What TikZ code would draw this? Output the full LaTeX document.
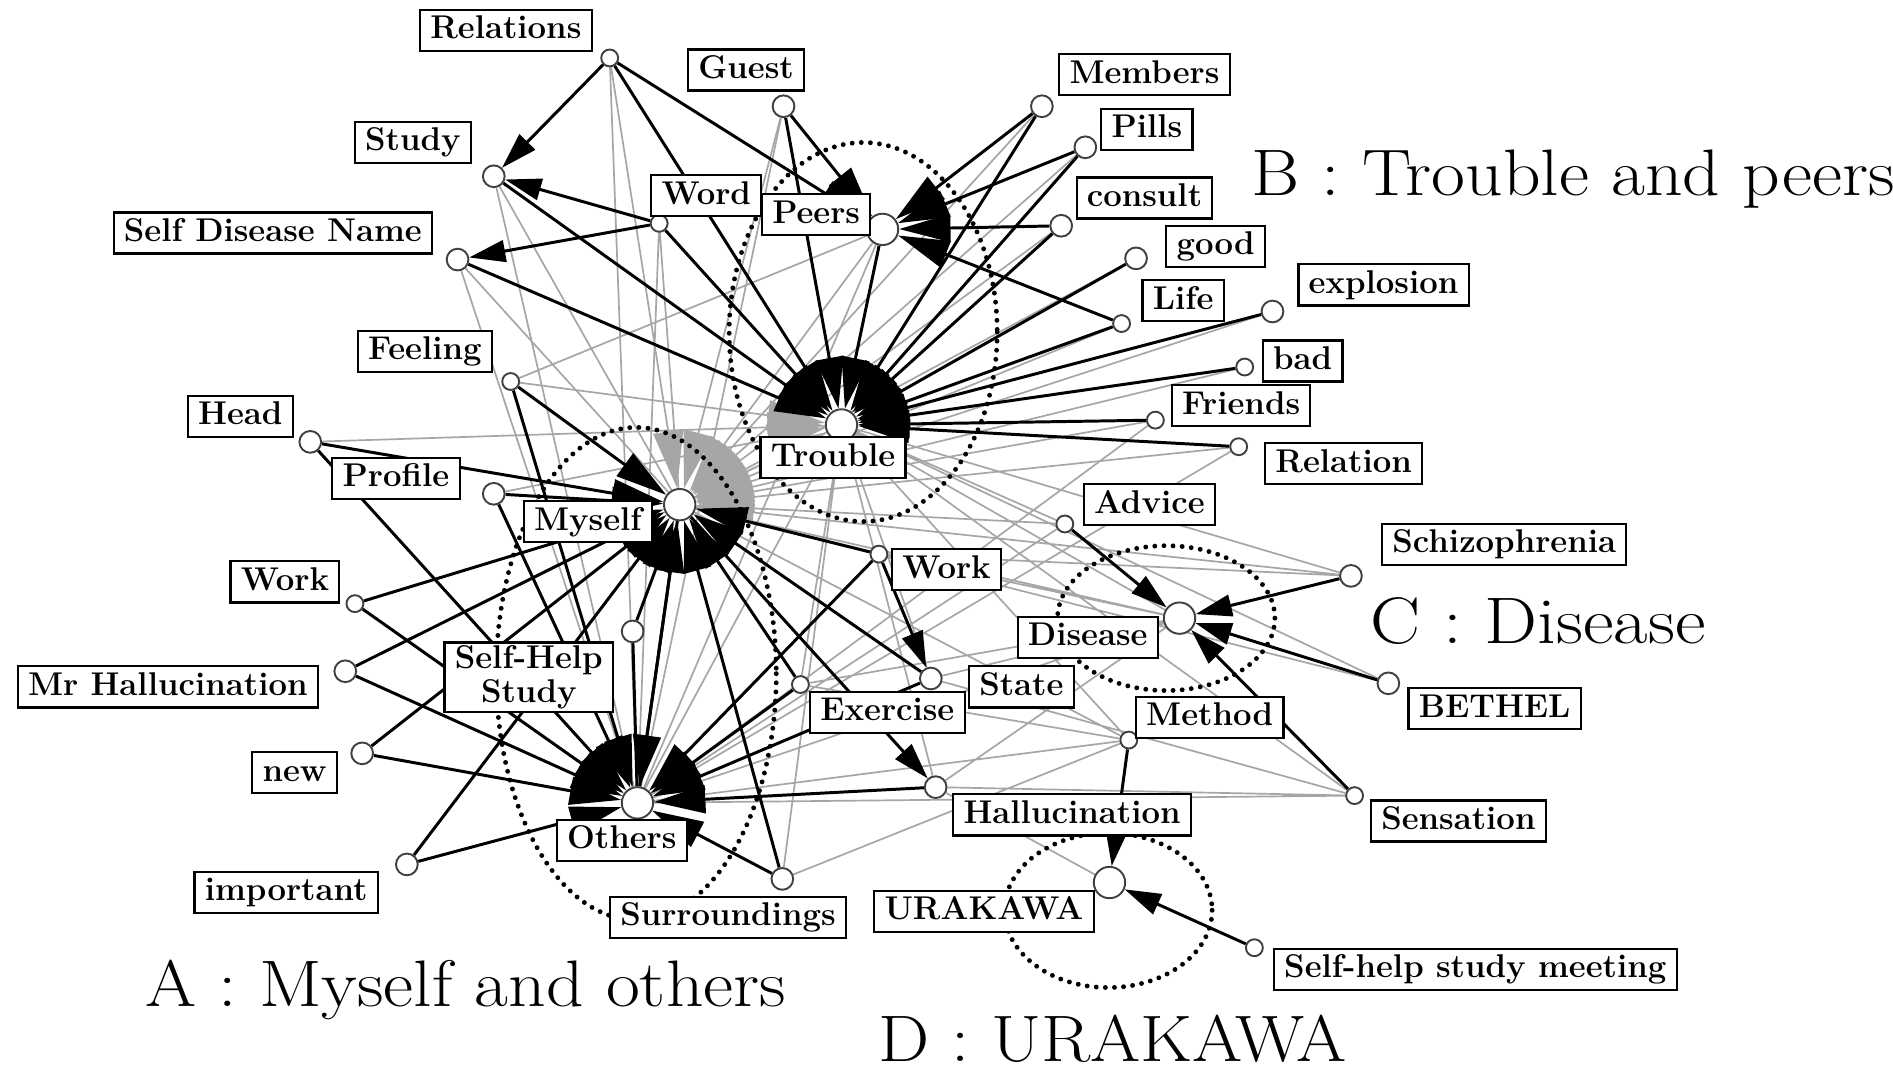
\documentclass[tikz,border=0pt]{standalone}
\usepackage{fontspec}
\usepackage{tikz}
\usetikzlibrary{arrows.meta, backgrounds}

\begin{document}
\begin{tikzpicture}[x=0.02cm, y=-0.02cm, >={Triangle[length=0.6cm, width=0.36cm]}, font=\fontsize{15.5}{17}\selectfont\bfseries]
	\tikzstyle{vtx} = [draw=black!75, line width=0.9pt, fill=white, circle, minimum size=0.36cm, inner sep=0pt]
	\tikzstyle{smallvtx} = [vtx, minimum size=0.28cm]
	\tikzstyle{hub} = [vtx, minimum size=0.52cm]
	\tikzstyle{box} = [draw=black, line width=1pt, fill=white, rectangle, inner xsep=0.17cm]
	\tikzstyle{tag} = [box, inner ysep=0.1cm, text height=0.38cm, text depth=0.1cm]
	\tikzstyle{grouptitle} = [anchor=base west, inner sep=0pt, font=\fontsize{31}{34}\selectfont\mdseries]
	\tikzstyle{link} = [line width=1.4pt]
	\tikzstyle{arrow} = [link, ->]
	\tikzstyle{fan} = [link, -{Triangle[length=0.85cm, width=0.46cm]}]
	\tikzstyle{faint} = [line width=0.8pt, black!35]
	\tikzstyle{faintfan} = [faint, -{Triangle[length=0.95cm, width=0.5cm]}]
	\tikzstyle{cluster} = [line width=2.3pt, dash pattern=on 0pt off 4.3pt, line cap=round]
	
	\useasboundingbox (0,0) rectangle (1568,890);
	
	% hubs
	\node[hub]	at (697,352)	(tr)	{};
	\node[hub]	at (563,418)	(my)	{};
	\node[hub]	at (528,665)	(ot)	{};
	\node[hub]	at (731,190)	(pe)	{};
	\node[hub]	at (977,512)	(dis)	{};
	\node[hub]	at (919,731)	(ura)	{};
	
	% words
	\node[smallvtx]	at (505,48)		(rel)		{};
	\node[vtx]		at (649,88)		(guest)		{};
	\node[vtx]		at (409,146)	(study)		{};
	\node[smallvtx]	at (546,185)	(word)		{};
	\node[vtx]		at (379,215)	(sdn)		{};
	\node[vtx]		at (863,88)		(mem)		{};
	\node[vtx]		at (899,122)	(pills)		{};
	\node[vtx]		at (879,187)	(cons)		{};
	\node[vtx]		at (941,214)	(good)		{};
	\node[smallvtx]	at (929,268)	(life)		{};
	\node[vtx]		at (1054,258)	(expl)		{};
	\node[smallvtx]	at (1031,304)	(bad)		{};
	\node[smallvtx]	at (957,348)	(friends)	{};
	\node[smallvtx]	at (1026,370)	(relation)	{};
	\node[smallvtx]	at (423,316)	(feel)		{};
	\node[vtx]		at (257,366)	(head)		{};
	\node[vtx]		at (409,409)	(prof)		{};
	\node[smallvtx]	at (294,500)	(workl)		{};
	\node[vtx]		at (286,556)	(mrh)		{};
	\node[vtx]		at (300,624)	(new)		{};
	\node[vtx]		at (337,716)	(imp)		{};
	\node[vtx]		at (524,523)	(shs)		{};
	\node[vtx]		at (648,728)	(sur)		{};
	\node[smallvtx]	at (663,567)	(exer)		{};
	\node[smallvtx]	at (728,459)	(workr)		{};
	\node[vtx]		at (771,562)	(state)		{};
	\node[vtx]		at (775,652)	(hall)		{};
	\node[smallvtx]	at (882,434)	(adv)		{};
	\node[vtx]		at (1119,477)	(schizo)	{};
	\node[vtx]		at (1150,566)	(bethel)	{};
	\node[smallvtx]	at (935,613)	(meth)		{};
	\node[smallvtx]	at (1122,659)	(sens)		{};
	\node[smallvtx]	at (1039,785)	(shsm)		{};
	
	% labels
	\node[tag]	at (419,25)		(relL)		{Relations};
	\node[tag]	at (618,58)		(guestL)	{Guest};
	\node[tag]	at (342,118)	(studyL)	{Study};
	\node[tag]	at (585,162)	(wordL)		{Word};
	\node[tag]	at (226,193)	(sdnL)		{Self Disease Name};
	\node[tag]	at (676,178)	(peL)		{Peers};
	\node[tag]	at (948,62)		(memL)		{Members};
	\node[tag]	at (950,107)	(pillsL)	{Pills};
	\node[tag]	at (948,164)	(consL)		{consult};
	\node[tag]	at (1007,204)	(goodL)		{good};
	\node[tag]	at (980,249)	(lifeL)		{Life};
	\node[tag]	at (1146,236)	(explL)		{explosion};
	\node[tag]	at (1079,299)	(badL)		{bad};
	\node[tag]	at (1028,336)	(friendsL)	{Friends};
	\node[tag]	at (1113,384)	(relationL)	{Relation};
	\node[tag]	at (352,291)	(feelL)		{Feeling};
	\node[tag]	at (199,345)	(headL)		{Head};
	\node[tag]	at (328,396)	(profL)		{Profile};
	\node[tag]	at (487,432)	(myL)		{Myself};
	\node[tag]	at (690,379)	(trL)		{Trouble};
	\node[tag]	at (236,482)	(worklL)	{Work};
	\node[tag]	at (139,569)	(mrhL)		{Mr Hallucination};
	\node[box, align=center, inner ysep=0.05cm, font=\fontsize{15.5}{16}\selectfont\bfseries]	at (438,561)	(shsL)	{Self-Help\\Study};
	\node[tag]	at (244,640)	(newL)		{new};
	\node[tag]	at (237,739)	(impL)		{important};
	\node[tag]	at (515,696)	(otL)		{Others};
	\node[tag]	at (603,760)	(surL)		{Surroundings};
	\node[tag]	at (735,590)	(exerL)		{Exercise};
	\node[tag]	at (784,472)	(workrL)	{Work};
	\node[tag]	at (846,569)	(stateL)	{State};
	\node[tag]	at (888,675)	(hallL)		{Hallucination};
	\node[tag]	at (952,418)	(advL)		{Advice};
	\node[tag]	at (901,528)	(disL)		{Disease};
	\node[tag]	at (1246,451)	(schizoL)	{Schizophrenia};
	\node[tag]	at (1238,587)	(bethelL)	{BETHEL};
	\node[tag]	at (1002,594)	(methL)		{Method};
	\node[tag]	at (1208,680)	(sensL)		{Sensation};
	\node[tag]	at (815,755)	(uraL)		{URAKAWA};
	\node[tag]	at (1222,803)	(shsmL)		{Self-help study meeting};
	
	% groups
	\node[grouptitle]	at (1036,162)	(gB)	{\scalebox{1.12}[1]{B : Trouble and peers}};
	\node[grouptitle]	at (1135,533)	(gC)	{\scalebox{1.14}[1]{C : Disease}};
	\node[grouptitle]	at (120,834)	(gA)	{\scalebox{1.12}[1]{A : Myself and others}};
	\node[grouptitle]	at (727,879)	(gD)	{\scalebox{1.1}[1]{D : URAKAWA}};
	
	\begin{scope}[on background layer]
		\fill[white] (0,0) rectangle (1568,890);
		
		% weak links
		\draw[faint] (study) -- (my) (sdn) -- (my) (sdn) -- (ot) (study) -- (ot) (rel) -- (ot) (word) -- (ot) (guest) -- (ot) (word) -- (my) (pe) -- (ot) (tr) -- (ot) (tr) -- (hall) (tr) -- (state) (tr) -- (exer) (tr) -- (sur) (tr) -- (dis) (tr) -- (sens) (tr) -- (meth) (my) -- (dis) (my) -- (meth) (my) -- (schizo) (my) -- (bethel) (ot) -- (meth) (ot) -- (sens) (ot) -- (dis) (hall) -- (sens) (hall) -- (dis) (schizo) -- (tr) (bethel) -- (tr) (adv) -- (tr) (adv) -- (ot) (state) -- (dis) (state) -- (sens) (exer) -- (dis) (exer) -- (meth) (workr) -- (dis) (workr) -- (schizo) (feel) -- (pe) (relation) -- (ot) (friends) -- (ot) (sur) -- (meth) (hall) -- (ura);
		
		\draw[faintfan] (rel) -- (my);
		\draw[faintfan] (guest) -- (my);
		\draw[faintfan] (pe) -- (my);
		\draw[faintfan] (tr) -- (my);
		\draw[faintfan] (mem) -- (my);
		\draw[faintfan] (pills) -- (my);
		\draw[faintfan] (cons) -- (my);
		\draw[faintfan] (good) -- (my);
		\draw[faintfan] (life) -- (my);
		\draw[faintfan] (expl) -- (my);
		\draw[faintfan] (bad) -- (my);
		\draw[faintfan] (friends) -- (my);
		\draw[faintfan] (relation) -- (my);
		\draw[faintfan] (adv) -- (my);
		\draw[faintfan] (feel) -- (tr);
		\draw[faintfan] (head) -- (tr);
		\draw[faintfan] (prof) -- (tr);
		\draw[faintfan] (my) -- (tr);
		
		% clusters
		\draw[cluster] (715,275) ellipse [x radius=111, y radius=157];
		\draw[cluster] (527,558) ellipse [x radius=116, y radius=204];
		\draw[cluster] (966,512) ellipse [x radius=90, y radius=60];
		\draw[cluster] (918,754) ellipse [x radius=86, y radius=64];
		
		% strong links
		\draw[fan] (rel) -- (tr);
		\draw[fan] (study) -- (tr);
		\draw[fan] (sdn) -- (tr);
		\draw[fan] (word) -- (tr);
		\draw[fan] (guest) -- (tr);
		\draw[fan] (pe) -- (tr);
		\draw[fan] (mem) -- (tr);
		\draw[fan] (pills) -- (tr);
		\draw[fan] (cons) -- (tr);
		\draw[fan] (good) -- (tr);
		\draw[fan] (life) -- (tr);
		\draw[fan] (expl) -- (tr);
		\draw[fan] (bad) -- (tr);
		\draw[fan] (friends) -- (tr);
		\draw[fan] (relation) -- (tr);
		
		\draw[fan] (rel) -- (pe);
		\draw[fan] (guest) -- (pe);
		\draw[fan] (mem) -- (pe);
		\draw[fan] (pills) -- (pe);
		\draw[fan] (cons) -- (pe);
		\draw[fan] (life) -- (pe);
		
		\draw[fan] (feel) -- (my);
		\draw[fan] (head) -- (my);
		\draw[fan] (prof) -- (my);
		\draw[fan] (workl) -- (my);
		\draw[fan] (mrh) -- (my);
		\draw[fan] (new) -- (my);
		\draw[fan] (imp) -- (my);
		\draw[fan] (shs) -- (my);
		\draw[fan] (ot) -- (my);
		\draw[fan] (sur) -- (my);
		\draw[fan] (exer) -- (my);
		\draw[fan] (state) -- (my);
		\draw[fan] (workr) -- (my);
		
		\draw[fan] (head) -- (ot);
		\draw[fan] (prof) -- (ot);
		\draw[fan] (feel) -- (ot);
		\draw[fan] (workl) -- (ot);
		\draw[fan] (mrh) -- (ot);
		\draw[fan] (new) -- (ot);
		\draw[fan] (imp) -- (ot);
		\draw[fan] (my) -- (ot);
		\draw[fan] (exer) -- (ot);
		\draw[fan] (workr) -- (ot);
		\draw[fan] (hall) -- (ot);
		\draw[fan] (state) -- (ot);
		\draw[fan] (sur) -- (ot);
		\draw[link] (shs) -- (ot);
		
		\draw[arrow] (rel) -- (study);
		\draw[arrow] (word) -- (study);
		\draw[arrow] (word) -- (sdn);
		\draw[arrow] (workr) -- (state);
		\draw[arrow] (my) -- (hall);
		\draw[arrow] (adv) -- (dis);
		\draw[arrow] (schizo) -- (dis);
		\draw[arrow] (bethel) -- (dis);
		\draw[arrow] (sens) -- (dis);
		\draw[arrow] (meth) -- (ura);
		\draw[arrow] (shsm) -- (ura);
	\end{scope}
\end{tikzpicture}
\end{document}
